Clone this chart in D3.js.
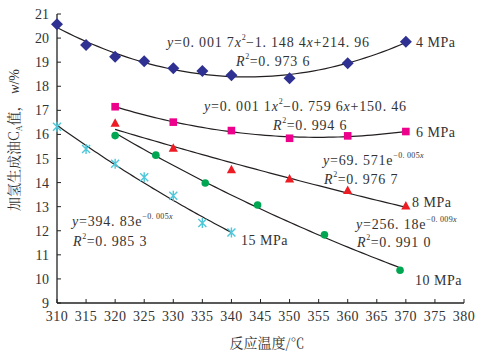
<!DOCTYPE html>
<html><head><meta charset="utf-8">
<script src="https://cdn.jsdelivr.net/npm/d3@7/dist/d3.min.js"></script>
<style>
html,body{margin:0;padding:0;background:#fff;}
svg{display:block;}
</style></head>
<body>
<script>
// ---- data ----
const xTicks = [310,315,320,325,330,335,340,345,350,355,360,365,370,375,380];
const yTicks = [9,10,11,12,13,14,15,16,17,18,19,20,21];

const x4 = [310,315,320,325,330,335,340,350,360,370];
const y4 = [20.57,19.71,19.23,19.04,18.75,18.63,18.46,18.33,18.95,19.85];

const x6 = [320,330,340,350,360,370];
const y6 = [17.15,16.51,16.16,15.84,15.94,16.12];

const x8 = [320,330,340,350,360,370];
const y8 = [16.46,15.43,14.53,14.15,13.67,13.03];

const x10 = [320,327,335.5,344.5,356,369];
const y10 = [15.95,15.14,13.98,13.07,11.83,10.36];

const x15 = [310,315,320,325,330,335,340];
const y15 = [16.32,15.39,14.78,14.22,13.45,12.32,11.93];

const seriesNames = ["4 MPa","6 MPa","8 MPa","10 MPa","15 MPa"];

// ---- layout ----
const SERIF = "'Liberation Serif'";
const CJK = "'Noto Serif CJK SC'";
const W = 477, H = 356;
const svg = d3.select("body").append("svg").attr("width",W).attr("height",H);
const x = d3.scaleLinear().domain([310,380]).range([57,464]);
const y = d3.scaleLinear().domain([9,21]).range([303,14]);
const TXT = "#333";

// axes
const ax = svg.append("g");
ax.append("line").attr("x1",x(310)).attr("x2",x(380)).attr("y1",y(9)).attr("y2",y(9)).attr("stroke","#222").attr("stroke-width",1.3);
ax.append("line").attr("x1",x(310)).attr("x2",x(310)).attr("y1",y(9)).attr("y2",y(21)).attr("stroke","#222").attr("stroke-width",1.3);
ax.selectAll(".xt").data(xTicks).enter().append("line")
  .attr("x1",d=>x(d)).attr("x2",d=>x(d)).attr("y1",y(9)).attr("y2",y(9)-4).attr("stroke","#222").attr("stroke-width",1);
ax.selectAll(".yt").data(yTicks).enter().append("line")
  .attr("x1",x(310)).attr("x2",x(310)+4).attr("y1",d=>y(d)).attr("y2",d=>y(d)).attr("stroke","#222").attr("stroke-width",1);
ax.selectAll(".xl").data(xTicks).enter().append("text").style("font-family",SERIF)
  .attr("x",d=>x(d)).attr("y",321).attr("text-anchor","middle").attr("font-size",14).attr("fill",TXT).style("letter-spacing","0.5px").text(d=>d);
ax.selectAll(".yl").data(yTicks).enter().append("text").style("font-family",SERIF)
  .attr("x",49).attr("y",d=>y(d)+5).attr("text-anchor","end").attr("font-size",14).attr("fill",TXT).text(d=>d);

svg.append("text").attr("x",267).attr("y",348).attr("text-anchor","middle").attr("fill",TXT)
  .attr("font-size",14).style("font-family",CJK).text("反应温度/℃");
const yt = svg.append("text").attr("transform","translate(19,140) rotate(-90)").attr("text-anchor","middle")
  .attr("font-size",14).attr("fill",TXT).style("font-family",CJK);
yt.append("tspan").text("加氢生成油C");
yt.append("tspan").attr("font-size",8).attr("dy",3).style("font-family",SERIF).text("A");
yt.append("tspan").attr("dy",-3).text("值， ");
yt.append("tspan").style("font-family",SERIF).style("font-style","italic").text("w");
yt.append("tspan").style("font-family",SERIF).text("/%");

// ---- fits computed from data ----
function solve3(A,b){
  const M = A.map((r,i)=>r.concat([b[i]]));
  for(let i=0;i<3;i++){
    let p=i; for(let k=i+1;k<3;k++) if(Math.abs(M[k][i])>Math.abs(M[p][i])) p=k;
    [M[i],M[p]]=[M[p],M[i]];
    for(let k=0;k<3;k++){ if(k===i) continue; const f=M[k][i]/M[i][i]; for(let j=i;j<4;j++) M[k][j]-=f*M[i][j]; }
  }
  return [M[0][3]/M[0][0],M[1][3]/M[1][1],M[2][3]/M[2][2]];
}
function quadFit(xs,ys){
  const m = d3.mean(xs); const u = xs.map(v=>v-m);
  const s = k=>d3.sum(u,v=>Math.pow(v,k));
  const t = k=>d3.sum(u,(v,i)=>Math.pow(v,k)*ys[i]);
  const c = solve3([[s(0),s(1),s(2)],[s(1),s(2),s(3)],[s(2),s(3),s(4)]],[t(0),t(1),t(2)]);
  return v=>{const q=v-m; return c[0]+c[1]*q+c[2]*q*q;};
}
function expFit(xs,ys){
  const ly = ys.map(Math.log); const mx=d3.mean(xs), my=d3.mean(ly);
  const b = d3.sum(xs,(v,i)=>(v-mx)*(ly[i]-my))/d3.sum(xs,v=>(v-mx)*(v-mx));
  const a = my-b*mx;
  return v=>Math.exp(a+b*v);
}
const line = d3.line().x(d=>x(d[0])).y(d=>y(d[1]));
function drawFit(f,x0,x1){
  const pts = d3.range(0,61).map(i=>{const v=x0+(x1-x0)*i/60; return [v,f(v)];});
  svg.append("path").attr("d",line(pts)).attr("fill","none").attr("stroke","#231f20").attr("stroke-width",1.2);
}
drawFit(quadFit(x4,y4),310,370);
drawFit(quadFit(x6,y6),320,370);
drawFit(expFit(x8,y8),320,370);
drawFit(expFit(x10,y10),320,369);
drawFit(expFit(x15,y15),310,340);

// ---- markers ----
const g = svg.append("g");
g.selectAll(".d4").data(x4).enter().append("path")
  .attr("d",(d,i)=>{const cx=x(d),cy=y(y4[i]);return `M${cx},${cy-6}L${cx+6},${cy}L${cx},${cy+6}L${cx-6},${cy}Z`;})
  .attr("fill","#2E3192");
g.selectAll(".d6").data(x6).enter().append("rect")
  .attr("x",d=>x(d)-3.8).attr("y",(d,i)=>y(y6[i])-3.8).attr("width",7.6).attr("height",7.6).attr("fill","#EC008C");
g.selectAll(".d8").data(x8).enter().append("path")
  .attr("d",(d,i)=>{const cx=x(d),cy=y(y8[i]);return `M${cx},${cy-5}L${cx+4.6},${cy+3.5}L${cx-4.6},${cy+3.5}Z`;})
  .attr("fill","#ED1C24");
g.selectAll(".d10").data(x10).enter().append("circle")
  .attr("cx",d=>x(d)).attr("cy",(d,i)=>y(y10[i])).attr("r",3.8).attr("fill","#00A651");
g.selectAll(".d15").data(x15).enter().append("path")
  .attr("d",(d,i)=>{const cx=x(d),cy=y(y15[i]),r=4;return `M${cx-r},${cy-r}L${cx+r},${cy+r}M${cx-r},${cy+r}L${cx+r},${cy-r}M${cx},${cy-r-1}L${cx},${cy+r+1}`;})
  .attr("stroke","#4DC7D9").attr("stroke-width",1.4).attr("fill","none");

// ---- labels ----
const labPos = [[416,47],[416,137],[412,207],[415,285],[241,245]];
svg.selectAll(".sl").data(seriesNames).enter().append("text").style("font-family",SERIF)
  .attr("x",(d,i)=>labPos[i][0]).attr("y",(d,i)=>labPos[i][1]).attr("font-size",14).attr("fill",TXT).style("letter-spacing","0.5px").text(d=>d);

// equations
function eq(xp,yp,parts){
  const t = svg.append("text").attr("x",xp).attr("y",yp).attr("font-size",14).attr("fill",TXT)
    .style("font-family",SERIF).style("letter-spacing","0.8px");
  parts.forEach(p=>{
    const s = t.append("tspan").text(p.t);
    if(p.i) s.style("font-style","italic");
    if(p.sup){ s.attr("font-size",8).attr("dy",-7).style("letter-spacing","0.3px"); }
    if(p.small){ s.attr("font-size",8); }
    if(p.down){ s.attr("dy",7); }
  });
}
eq(167,47,[{t:"y",i:1},{t:"=0. 001 7"},{t:"x",i:1},{t:"2",sup:1},{t:"−1. 148 4",down:1},{t:"x",i:1},{t:"+214. 96"}]);
eq(236,66,[{t:"R",i:1},{t:"2",sup:1},{t:"=0. 973 6",down:1}]);
eq(204,111,[{t:"y",i:1},{t:"=0. 001 1"},{t:"x",i:1},{t:"2",sup:1},{t:"−0. 759 6",down:1},{t:"x",i:1},{t:"+150. 46"}]);
eq(273,130,[{t:"R",i:1},{t:"2",sup:1},{t:"=0. 994 6",down:1}]);
eq(323,165,[{t:"y",i:1},{t:"=69. 571e"},{t:"−0. 005",sup:1},{t:"x",i:1,small:1}]);
eq(324,184,[{t:"R",i:1},{t:"2",sup:1},{t:"=0. 976 7",down:1}]);
eq(356,229,[{t:"y",i:1},{t:"=256. 18e"},{t:"−0. 009",sup:1},{t:"x",i:1,small:1}]);
eq(357,247,[{t:"R",i:1},{t:"2",sup:1},{t:"=0. 991 0",down:1}]);
eq(72,226,[{t:"y",i:1},{t:"=394. 83e"},{t:"−0. 005",sup:1},{t:"x",i:1,small:1}]);
eq(73,246,[{t:"R",i:1},{t:"2",sup:1},{t:"=0. 985 3",down:1}]);
</script>
</body></html>
